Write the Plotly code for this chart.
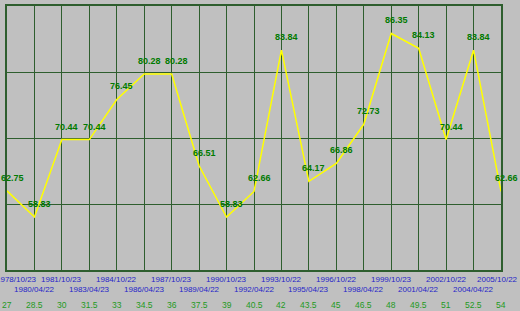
import plotly.graph_objects as go

values = [62.75, 58.83, 70.44, 70.44, 76.45, 80.28, 80.28, 66.51, 58.83, 62.66,
          83.84, 64.17, 66.86, 72.73, 86.35, 84.13, 70.44, 83.84, 62.66]
dates = ["1978/10/23", "1980/04/22", "1981/10/23", "1983/04/23", "1984/10/22",
         "1986/04/23", "1987/10/23", "1989/04/22", "1990/10/23", "1992/04/22",
         "1993/10/22", "1995/04/23", "1996/10/22", "1998/04/22", "1999/10/23",
         "2001/04/22", "2002/10/22", "2004/04/22", "2005/10/22"]
ages = ["27", "28.5", "30", "31.5", "33", "34.5", "36", "37.5", "39", "40.5",
        "42", "43.5", "45", "46.5", "48", "49.5", "51", "52.5", "54"]

y_min, y_max = 50.88, 90.47
y_grid = [y_min + (y_max - y_min) * k / 4 for k in range(5)]

x = list(range(len(values)))

fig = go.Figure()
fig.add_trace(go.Scatter(x=x, y=values, mode="lines",
                         line=dict(color="#FFFF00", width=1.5),
                         hoverinfo="skip", showlegend=False))

fam = "Liberation Sans, Arial, sans-serif"
ann = []
for i, v in enumerate(values):
    ann.append(dict(x=i, y=v, xref="x", yref="y", text=f"{v:.2f}", showarrow=False,
                    xanchor="center", yanchor="middle", xshift=5, yshift=13,
                    font=dict(family=fam, size=9, color="#007A00", weight="bold")))
last = len(dates) - 1
for i, d in enumerate(dates):
    shift = 0
    if i == 0:
        shift = 9
    elif i == last:
        shift = -4
    ann.append(dict(x=i, y=0, xref="x", yref="paper", text=d, showarrow=False,
                    xanchor="center", yanchor="middle", xshift=shift,
                    yshift=-9.5 if i % 2 == 0 else -19.7,
                    font=dict(family=fam, size=8, color="#2626C8")))
for i, a in enumerate(ages):
    ann.append(dict(x=i, y=0, xref="x", yref="paper", text=a, showarrow=False,
                    xanchor="center", yanchor="middle", yshift=-34.7,
                    font=dict(family=fam, size=8.5, color="#1E9A1E")))

grid_c = "#2E5E2E"
fig.update_layout(
    width=520, height=311,
    margin=dict(l=7, r=19, t=4, b=41),
    paper_bgcolor="#C0C0C0", plot_bgcolor="#C0C0C0",
    annotations=ann,
    xaxis=dict(range=[0, 18], tickvals=x, showticklabels=False, ticks="",
               showgrid=True, gridcolor=grid_c, gridwidth=1.3, zeroline=False,
               showline=True, linecolor=grid_c, linewidth=2, mirror=True),
    yaxis=dict(range=[y_min, y_max], tickvals=y_grid, showticklabels=False, ticks="",
               showgrid=True, gridcolor=grid_c, gridwidth=1.3, zeroline=False,
               showline=True, linecolor=grid_c, linewidth=2, mirror=True),
)

fig.write_html("out.html")
